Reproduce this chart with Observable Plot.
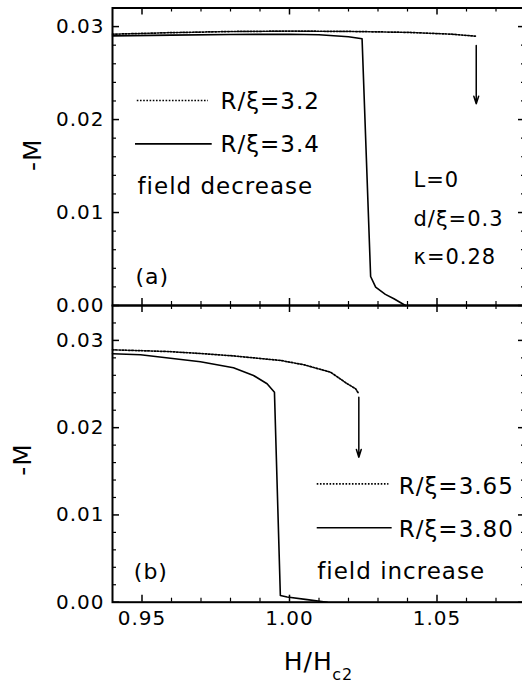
<!DOCTYPE html>
<html><head><meta charset="utf-8">
<script src="https://cdn.jsdelivr.net/npm/d3@7"></script>
<script src="https://cdn.jsdelivr.net/npm/@observablehq/plot@0.6"></script>
<style>
html,body{margin:0;padding:0;background:#fff;overflow:hidden;}
#chart svg{display:block;}
</style></head><body><div id="chart"></div>
<script>
// ---- data: panel (a), field decrease ----
const hA32 = [0.94, 0.96, 0.98, 1.00, 1.02, 1.04, 1.055, 1.063];
const mA32 = [0.02918, 0.02935, 0.02947, 0.02952, 0.02948, 0.02938, 0.02918, 0.02897];
const hA34 = [0.94, 0.96, 0.98, 1.00, 1.01, 1.02, 1.0246, 1.0275, 1.0292, 1.0325, 1.0354, 1.0393];
const mA34 = [0.0290, 0.02908, 0.02915, 0.02918, 0.02912, 0.0289, 0.02869, 0.00312, 0.00197, 0.0012, 0.00072, 0.0];
// ---- data: panel (b), field increase ----
const hB365 = [0.94, 0.9585, 0.9698, 0.9811, 0.997, 1.005, 1.0139, 1.0196, 1.0224, 1.0235];
const mB365 = [0.02892, 0.02873, 0.0285, 0.02822, 0.0277, 0.0272, 0.02636, 0.02503, 0.02446, 0.02388];
const hB380 = [0.94, 0.9495, 0.9698, 0.981, 0.9878, 0.9924, 0.9949, 0.9969, 0.9992, 1.006, 1.0128];
const mB380 = [0.02847, 0.02835, 0.02755, 0.02686, 0.02598, 0.02503, 0.02407, 0.00077, 0.0006, 0.0003, 0.0];
// arrows (jump of the dotted curves)
const arrowH = [1.0633, 1.0235];
const arrowFrom = [0.02797, 0.02349];
const arrowTo = [0.02169, 0.01662];
// ---- labels & ticks ----
const legendA = ["R/ξ=3.2", "R/ξ=3.4", "field decrease"];
const paramsA = ["L=0", "d/ξ=0.3", "κ=0.28"];
const legendB = ["R/ξ=3.65", "R/ξ=3.80", "field increase"];
const panelTags = ["(a)", "(b)"];
const yLabel = "-M";
const xLabel = "H/H";
const xLabelSub = "c2";
const xTicks = [0.95, 1.00, 1.05];
const xMinor = [0.96, 0.97, 0.98, 0.99, 1.01, 1.02, 1.03, 1.04, 1.06, 1.07];
const yTicks = [0, 0.01, 0.02, 0.03];
const yMinorA = [0.002, 0.004, 0.006, 0.008, 0.012, 0.014, 0.016, 0.018, 0.022, 0.024, 0.026, 0.028];
const yMinorB = [0.002, 0.004, 0.006, 0.008, 0.012, 0.014, 0.016, 0.018, 0.022, 0.024, 0.026, 0.028, 0.032];

const zip = (hs, ms) => hs.map((h, i) => ({h, m: ms[i]}));
const W = 522, ML = 112, MR = -3;
const innerW = W - ML - MR;
const FONT = "'DejaVu Sans', sans-serif";

function frameTicks(innerH, yMinor) {
  return [
    Plot.tickX(xTicks, {x: d => d, insetBottom: innerH - 7, strokeWidth: 1.5}),
    Plot.tickX(xTicks, {x: d => d, insetTop: innerH - 7, strokeWidth: 1.5}),
    Plot.tickX(xMinor, {x: d => d, insetBottom: innerH - 4, strokeWidth: 1.2}),
    Plot.tickX(xMinor, {x: d => d, insetTop: innerH - 4, strokeWidth: 1.2}),
    Plot.tickY(yTicks, {y: d => d, insetRight: innerW - 7, strokeWidth: 1.5}),
    Plot.tickY(yTicks, {y: d => d, insetLeft: innerW - 7, strokeWidth: 1.5}),
    Plot.tickY(yMinor, {y: d => d, insetRight: innerW - 4, strokeWidth: 1.2}),
    Plot.tickY(yMinor, {y: d => d, insetLeft: innerW - 4, strokeWidth: 1.2})
  ];
}
function label(t, dx, dy, size, opts = {}) {
  return Plot.text([t], {text: d => d, frameAnchor: "top-left", textAnchor: "start",
    lineAnchor: "bottom", dx, dy, fontSize: size, fill: "black", ...opts});
}
const solid = {stroke: "black", strokeWidth: 1.6};
const dotted = {stroke: "black", strokeWidth: 1.7, strokeDasharray: "1.6 1.6"};
const svgStyle = {fontFamily: FONT, fontSize: "20px", letterSpacing: "1px", background: "transparent", overflow: "visible", color: "black"};

// ---- panel (a) ----
const HA = 305, MTA = 7.5, MBA = 0;
const innerHA = HA - MTA - MBA;
const panelA = Plot.plot({
  width: W, height: HA, marginLeft: ML, marginRight: MR, marginTop: MTA, marginBottom: MBA,
  style: svgStyle,
  x: {domain: [0.94, 1.08], axis: null},
  y: {domain: [0, 0.032]},
  marks: [
    Plot.line(zip(hA32, mA32), {x: "h", y: "m", ...dotted}),
    Plot.line(zip(hA34, mA34), {x: "h", y: "m", ...solid}),
    Plot.arrow([0], {x1: () => arrowH[0], x2: () => arrowH[0], y1: () => arrowFrom[0], y2: () => arrowTo[0],
      headLength: 8, headAngle: 35, strokeWidth: 1.5, stroke: "black"}),
    Plot.ruleY([0.02205], {y: d => d, x1: 0.9484, x2: 0.9725, ...dotted}),
    Plot.ruleY([0.01739], {y: d => d, x1: 0.9478, x2: 0.9738, ...solid}),
    label(legendA[0], 108, 101, 23),
    label(legendA[1], 108, 143.5, 23),
    label(legendA[2], 25, 186, 23),
    label(paramsA[0], 301, 179, 21),
    label(paramsA[1], 301, 217.5, 21),
    label(paramsA[2], 301, 255.5, 21),
    label(panelTags[0], 23, 276, 22),
    Plot.text([yLabel], {text: d => d, frameAnchor: "left", rotate: -90, dx: -79.5, dy: -2,
      fontSize: 25, textAnchor: "middle", lineAnchor: "middle", fill: "black"}),
    ...frameTicks(innerHA, yMinorA),
    Plot.axisY(yTicks, {tickSize: 0, tickPadding: 8, tickFormat: d3.format(".2f"), label: null, fontSize: 20}),
    Plot.frame({stroke: "black", strokeWidth: 2})
  ]
});

// ---- panel (b) ----
const HB = 378, MTB = 0, MBB = 81.3;
const innerHB = HB - MTB - MBB;
const panelB = Plot.plot({
  width: W, height: HB, marginLeft: ML, marginRight: MR, marginTop: MTB, marginBottom: MBB,
  style: svgStyle,
  x: {domain: [0.94, 1.08]},
  y: {domain: [0, 0.034]},
  marks: [
    Plot.line(zip(hB365, mB365), {x: "h", y: "m", ...dotted}),
    Plot.line(zip(hB380, mB380), {x: "h", y: "m", ...solid}),
    Plot.arrow([0], {x1: () => arrowH[1], x2: () => arrowH[1], y1: () => arrowFrom[1], y2: () => arrowTo[1],
      headLength: 8, headAngle: 35, strokeWidth: 1.5, stroke: "black"}),
    Plot.ruleY([0.01357], {y: d => d, x1: 1.0094, x2: 1.0337, ...dotted}),
    Plot.ruleY([0.00853], {y: d => d, x1: 1.0094, x2: 1.0348, ...solid}),
    label(legendB[0], 286.3, 188.3, 23),
    label(legendB[1], 286.3, 231.7, 23),
    label(legendB[2], 204.7, 273.3, 23),
    label(panelTags[1], 21.3, 273.3, 22),
    Plot.text([yLabel], {text: d => d, frameAnchor: "left", rotate: -90, dx: -89.5, dy: 5.6,
      fontSize: 25, textAnchor: "middle", lineAnchor: "middle", fill: "black"}),
    Plot.text([xLabel], {text: d => d, frameAnchor: "bottom", dx: -35.2, dy: 67.5,
      fontSize: 25, textAnchor: "start", lineAnchor: "bottom", fill: "black"}),
    Plot.text([xLabelSub], {text: d => d, frameAnchor: "bottom", dx: 13.2, dy: 77.5,
      fontSize: 16, textAnchor: "start", lineAnchor: "bottom", fill: "black"}),
    ...frameTicks(innerHB, yMinorB),
    Plot.axisY(yTicks, {tickSize: 0, tickPadding: 8, tickFormat: d3.format(".2f"), label: null, fontSize: 20}),
    Plot.axisX(xTicks, {tickSize: 0, tickPadding: 8.5, tickFormat: d3.format(".2f"), label: null, fontSize: 20}),
    Plot.frame({stroke: "black", strokeWidth: 2})
  ]
});

const root = document.getElementById("chart");
root.append(panelA, panelB);
</script></body></html>
